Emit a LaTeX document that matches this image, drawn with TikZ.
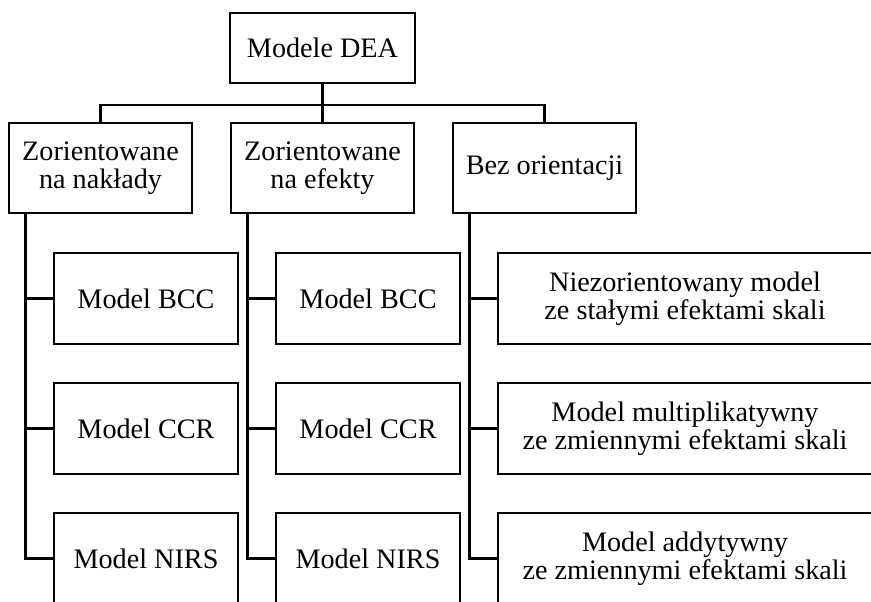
\documentclass[tikz,border=0pt]{standalone}
\usepackage{fontspec}
\setmainfont{Liberation Serif}

\begin{document}
\begin{tikzpicture}[x=0.5pt,y=-0.5pt,
	box/.style={draw,line width=1.4pt,inner sep=0pt,align=center,minimum width=92pt,minimum height=45.5pt,font=\fontsize{14.1}{13.8}\selectfont},
	link/.style={line width=1.4pt}]
	\useasboundingbox (0,0) rectangle (871,601);
	% root and the three groups
	\node[box,minimum width=92.5pt,minimum height=35pt] (dea) at (322.5,48) {Modele DEA};
	\node[box,minimum width=91.5pt,minimum height=45pt] (zn) at (100.5,168) {Zorientowane\\na nakłady};
	\node[box,minimum width=91.5pt,minimum height=45pt] (ze) at (322.5,168) {Zorientowane\\na efekty};
	\node[box,minimum width=91.5pt,minimum height=45pt] (bo) at (544.5,168) {Bez orientacji};
	\coordinate (bus) at (322.5,105);
	\draw[link] (dea) -- (ze);
	\draw[link] (zn) |- (bus) -| (bo);
	% models
	\node[box] (zn1) at (146,298.5) {Model BCC};
	\node[box] (zn2) at (146,428.5) {Model CCR};
	\node[box] (zn3) at (146,558.5) {Model NIRS};
	\node[box] (ze1) at (368,298.5) {Model BCC};
	\node[box] (ze2) at (368,428.5) {Model CCR};
	\node[box] (ze3) at (368,558.5) {Model NIRS};
	\node[box,minimum width=187pt] (bo1) at (685,298.5) {Niezorientowany model\\ze stałymi efektami skali};
	\node[box,minimum width=187pt] (bo2) at (685,428.5) {Model multiplikatywny\\ze zmiennymi efektami skali};
	\node[box,minimum width=187pt] (bo3) at (685,558.5) {Model addytywny\\ze zmiennymi efektami skali};
	\foreach \g in {zn,ze,bo} {
		\coordinate (\g-v) at ([xshift=9pt]\g.south west);
		\foreach \i in {1,2,3} \draw[link] (\g-v) |- (\g\i.west);
	}
\end{tikzpicture}
\end{document}
